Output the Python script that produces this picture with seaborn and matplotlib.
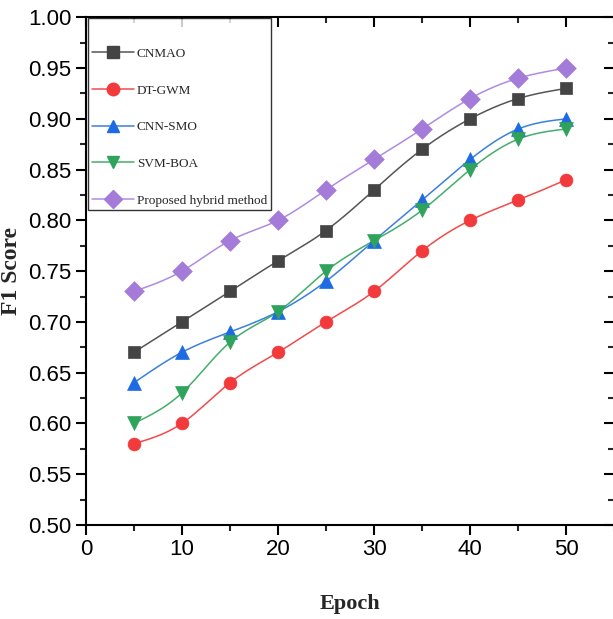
import numpy as np
import pandas as pd
import seaborn as sns
import matplotlib
matplotlib.use("Agg")
import matplotlib.pyplot as plt
from matplotlib.lines import Line2D
from matplotlib.ticker import MultipleLocator

# Data
epochs = [5, 10, 15, 20, 25, 30, 35, 40, 45, 50]
cnmao = [0.67, 0.70, 0.73, 0.76, 0.79, 0.83, 0.87, 0.90, 0.92, 0.93]
dt_gwm = [0.58, 0.60, 0.64, 0.67, 0.70, 0.73, 0.77, 0.80, 0.82, 0.84]
cnn_smo = [0.64, 0.67, 0.69, 0.71, 0.74, 0.78, 0.82, 0.86, 0.89, 0.90]
svm_boa = [0.60, 0.63, 0.68, 0.71, 0.75, 0.78, 0.81, 0.85, 0.88, 0.89]
proposed = [0.73, 0.75, 0.78, 0.80, 0.83, 0.86, 0.89, 0.92, 0.94, 0.95]

series_names = ["CNMAO", "DT-GWM", "CNN-SMO", "SVM-BOA", "Proposed hybrid method"]
series_values = [cnmao, dt_gwm, cnn_smo, svm_boa, proposed]
marker_styles = ["s", "o", "^", "v", "D"]
marker_colors = ["#444444", "#F23A3C", "#1C6BE3", "#2FA35C", "#A57BDA"]
line_colors = ["#555555", "#F24A4A", "#3B7FE0", "#45AD6A", "#B08BE0"]


# Natural cubic spline so the connecting lines are smooth like the original
def smooth_curve(x, y, n=300):
    x = np.asarray(x, float)
    y = np.asarray(y, float)
    k = len(x)
    h = np.diff(x)
    A = np.zeros((k, k))
    b = np.zeros(k)
    A[0, 0] = 1
    A[-1, -1] = 1
    for i in range(1, k - 1):
        A[i, i - 1] = h[i - 1]
        A[i, i] = 2 * (h[i - 1] + h[i])
        A[i, i + 1] = h[i]
        b[i] = 3 * ((y[i + 1] - y[i]) / h[i] - (y[i] - y[i - 1]) / h[i - 1])
    c = np.linalg.solve(A, b)
    xs = np.linspace(x[0], x[-1], n)
    ys = np.empty_like(xs)
    for j, xv in enumerate(xs):
        i = min(np.searchsorted(x, xv, side="right") - 1, k - 2)
        dx = xv - x[i]
        bb = (y[i + 1] - y[i]) / h[i] - h[i] * (2 * c[i] + c[i + 1]) / 3
        dd = (c[i + 1] - c[i]) / (3 * h[i])
        ys[j] = y[i] + bb * dx + c[i] * dx ** 2 + dd * dx ** 3
    return xs, ys


sns.set_style("ticks")
plt.rcParams["font.family"] = ["Liberation Sans Narrow", "Liberation Sans", "DejaVu Sans"]

fig = plt.figure(figsize=(6.13, 6.19), dpi=100)
ax = fig.add_axes([0.140, 0.152, 0.862, 0.820])

handles = []
for name, vals, m, mc, lc in zip(series_names, series_values, marker_styles, marker_colors, line_colors):
    xs, ys = smooth_curve(epochs, vals)
    sns.lineplot(x=xs, y=ys, ax=ax, color=lc, linewidth=1.1, legend=False)
    size = 85 if m in ("s", "o") else 100
    sns.scatterplot(x=epochs, y=vals, ax=ax, marker=m, s=size, color=mc,
                    edgecolor=mc, linewidth=0.5, legend=False, zorder=5)
    handles.append(Line2D([], [], color=lc, linewidth=1.1, marker=m,
                          markersize=9, markerfacecolor=mc, markeredgecolor=mc))

ax.set_xlim(0, 55)
ax.set_ylim(0.50, 1.00)
ax.xaxis.set_major_locator(MultipleLocator(10))
ax.xaxis.set_minor_locator(MultipleLocator(5))
ax.yaxis.set_major_locator(MultipleLocator(0.05))
ax.yaxis.set_minor_locator(MultipleLocator(0.025))
ax.yaxis.set_major_formatter(matplotlib.ticker.FormatStrFormatter("%.2f"))

for side in ["left", "bottom", "top", "right"]:
    ax.spines[side].set_visible(True)
    ax.spines[side].set_linewidth(1.5)
    ax.spines[side].set_color("black")

ax.tick_params(axis="both", which="major", direction="out", length=7, width=1.5,
               labelsize=16, colors="black")
ax.tick_params(axis="both", which="minor", direction="out", length=4, width=1.5)
# mirrored ticks on top/right point inward, without labels
ax.tick_params(axis="x", which="both", top=True, labeltop=False)
ax.tick_params(axis="y", which="both", right=True, labelright=False)
for t in ax.xaxis.get_ticklines(minor=False)[1::2] + ax.xaxis.get_ticklines(minor=True)[1::2]:
    t.set_marker(matplotlib.markers.TICKDOWN)
for t in ax.yaxis.get_ticklines(minor=False)[1::2] + ax.yaxis.get_ticklines(minor=True)[1::2]:
    t.set_marker(matplotlib.markers.TICKLEFT)

ax.set_xlabel("Epoch", fontsize=16, fontweight="bold", family=["Liberation Serif"], labelpad=24)
ax.set_ylabel("F1 Score", fontsize=17, fontweight="bold", family=["Liberation Serif"], labelpad=4)

# blank tiny title only pushes the entries down inside the frame
leg = ax.legend(handles, series_names, loc="upper left", bbox_to_anchor=(0.004, 0.998),
                borderaxespad=0.0, frameon=True, fancybox=False, edgecolor="black",
                handlelength=3.2, handletextpad=0.2, labelspacing=1.85,
                borderpad=0.3, title=" ", title_fontsize=1,
                prop={"family": "Liberation Serif", "size": 9.5})
leg.get_frame().set_linewidth(1.0)

fig.savefig("out.png", dpi=100)
